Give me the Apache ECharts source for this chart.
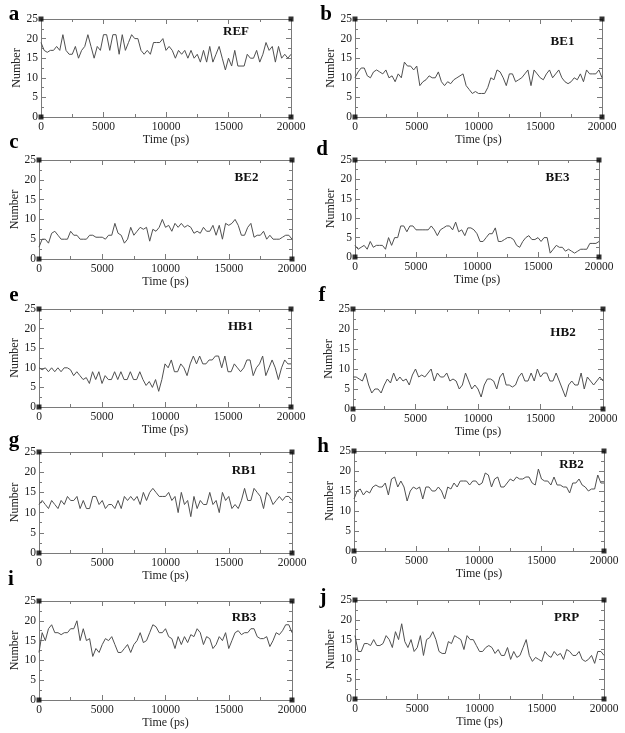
<!DOCTYPE html>
<html>
<head>
<meta charset="utf-8">
<script src="https://cdn.jsdelivr.net/npm/echarts@6/dist/echarts.min.js"></script>
<style>html,body{margin:0;padding:0;background:#fff}#c{width:625px;height:733px}</style>
</head>
<body>
<div id="c"></div>
<script>
// Time grid (ps), sampled every 250 ps
const TIME = [0,250,500,750,1000,1250,1500,1750,2000,2250,2500,2750,3000,3250,3500,3750,4000,4250,4500,4750,5000,5250,5500,5750,6000,6250,6500,6750,7000,7250,7500,7750,8000,8250,8500,8750,9000,9250,9500,9750,10000,10250,10500,10750,11000,11250,11500,11750,12000,12250,12500,12750,13000,13250,13500,13750,14000,14250,14500,14750,15000,15250,15500,15750,16000,16250,16500,16750,17000,17250,17500,17750,18000,18250,18500,18750,19000,19250,19500,19750,20000];

const REF = [19,17,16.5,17,17,18,17,21,17,16,16,18,15,17,18,21,18,15,18,17,21,21,17,21,21,16,21,17,19,21,20,20,17,16,17,16,19,19,19,20,17,18,17,15,17,16,17,15,17,15,16,14,17,14,18,14,16,18,15,12,15,13,17,13,13,13,16,15,15,17,14,16,19,17,18,14,18,15,16,15,16];
const BE1 = [10,11.5,12.5,12.5,10.5,10,11.5,12,11.5,11,12,10,10.5,9,11,10,14,13,13,12,13,8,9,9.5,10.5,10,10,11.5,9,8,9,8.5,9.5,10,10.5,11,8,7,6,6.5,6,6,6,7.5,10,9.5,12,11.5,10,8,11,11,9,9.5,10,11,12,8,12,11,10,9.5,11,12,10,11,12,10,9,8.5,9,10,9.5,11,9,12,11,11,11,12,10];
const BE2 = [3,5,5,4,6.5,7,6,5,5,5,7,6,6,5,5,5,6,6,5.5,5.5,5.5,5,6,6,9,6.5,6,4,5,8,6,7,8,7.5,8,4.5,7.5,7,8,10,8,8.5,7,9,8,9,8,8.5,8,6.5,7,6.5,8,7,7,8.5,6,8.5,5,9,8.5,9,10,8.5,6,6,8,9,5.5,6,6,7,5,6,5,5,5,5.5,6,6,5];
const BE3 = [3,2,2.5,3,2,4,2.5,3,3,3,2,5,3,5,5,8,8,6.5,8,8,7,7,7,7,7,8,7,5.5,7,7.5,8,8,7,9,6.5,7,5.5,7.5,7.5,7,6,4,4,5,6,6,7.5,4,4,4.5,5,5,4.5,3,2.5,4,5,5.5,4.5,4.5,5,4,5,5,1,2,3,2.5,2.5,1.5,2,1.5,1,1.5,2,2,2,3.5,3.5,3.5,4];
const HB1 = [10,9.5,10,9,10,9,10,9,10,10,9.5,8,9,8,7,7.5,6,9,7,9,6,8,7,7,9,7,9,7,7,9,7,7,9,7,5.5,6.5,5,7,4,7,11,10,12,9,9,11,10,8,11,13,11,13,11,11,12,12,13,13,10,13,9,9,11,10,9,10,12,12,8,10,11,13,8,10,12,10,7,10,12,11,11];
const HB2 = [8,8,7.5,7,9,6,4,5,5,4,6,7.5,6.5,9,7,8,7,7.5,6,8.5,10,8,8.5,8,9,10,7,9,8,8,9,7,7.5,7,5,6,9,7,5,6,5,3,6,7.5,7.5,7,5,8,9,6,6,5.5,6,8,9,7,7,9,7,10,8,9,9,7,7,9,7,5,3,6,7,6,6,9,5,8,7,6,7,8,7];
const RB1 = [12,13,12,11,13,12,11,13,12,14,13,13,14,11,13,11,11,14,14,12,13,11,12,12,11,13,11,14,13,14,13,14,12,15,13,15,16,15,14,14,14,15,13,14,10,15,12,13,9,14,11,13,12,12,15,12,13,10,15,13,14,11,12,11,13,16,13,13,16,15,14,11,15,14,12,13,14,13,14,14,13];
const RB2 = [13,15,15.5,14,15,14.5,16,16.5,16,16,17,14,18,18.5,16,17.5,16,12.5,15,16,15.5,16,13,16,16,15,15,16,15,13,16,15.5,17,16,17.5,17.5,17.5,16.5,17.5,17.5,16.5,17,19.5,19,16,18,18.5,16,16,17,18,17.5,18.5,18,18,18.5,18.5,17,16.5,20.5,18,17.5,17.5,16.5,18.5,16.5,16.5,16,16,14.5,17,17,18,16.5,16,15,15.5,15.5,19,17,17];
const RB3 = [12,17,15,18,19,17,17,16.5,17,17,18,18,20,15,18,15,15.5,11,13,12,14,15.5,15,16,14,12,12,13,14,12,14,15,17,14.5,15,17,19,18.5,17,17,18,16,15.5,13,16,14,16,14.5,16.5,16,18,17,14,16,15.5,13,14,16,15,17,13,15,17,17.5,16.5,17,17,18,18,16,15.5,15.5,16,13.5,15,17,16.5,17.5,19,19,17];
const PRP = [16,12,12,14,14,13.5,15,13.5,13.5,14,16,15,13,17,15,19,14.5,13,15,12,13,16,11,15,15.5,17,15,12,11.5,11.5,14.5,14,16,15.5,15,12.5,16,15,15,13.5,12,12,13,13.5,13,11.5,12.5,11,11,13,10,12,10.5,11,13,15,11,9.5,10.5,10,9.5,12,11,10.5,12,11,11.5,10,12.5,12,11,11,12,10,9.5,10,11,9,12,12,11];

const SERIES = [REF, BE1, BE2, BE3, HB1, HB2, RB1, RB2, RB3, PRP];
const NAMES = ['REF','BE1','BE2','BE3','HB1','HB2','RB1','RB2','RB3','PRP'];
const LETTERS = ['a','b','c','d','e','f','g','h','i','j'];
const X_MIN = 0, X_MAX = 20000, X_STEP = 5000;
const Y_MIN = 0, Y_MAX = 25, Y_STEP = 5;
const X_NAME = 'Time (ps)', Y_NAME = 'Number';

// layout (pixels)
const GRIDS = [
  {left:41,top:19,width:250,height:98},
  {left:355,top:19,width:247,height:98},
  {left:39,top:160,width:253,height:99},
  {left:355,top:160,width:244,height:97},
  {left:39,top:309,width:252,height:98},
  {left:353,top:309,width:250,height:100},
  {left:39,top:452,width:253,height:101},
  {left:354,top:451,width:250,height:100},
  {left:39,top:601,width:253,height:99},
  {left:355,top:600,width:249,height:99}
];
const TITLE_POS = [[0.78,13],[0.84,23],[0.82,18],[0.83,18],[0.80,18],[0.84,24],[0.81,19],[0.87,14],[0.81,17],[0.85,18]];
const LETTER_POS = [[14,15],[326,15],[14,143],[322,150],[14,296],[322,296],[14,441],[323,447],[11,580],[323,598]];

const FONT = '"Liberation Serif","DejaVu Serif",serif';
const AXIS_COLOR = '#7a7a7a';
const LINE_COLOR = '#505050';

const grid = [], xAxis = [], yAxis = [], series = [], graphic = [];
GRIDS.forEach((g, i) => {
  grid.push({left:g.left, top:g.top, width:g.width, height:g.height, containLabel:false});
  const common = {
    gridIndex:i, type:'value', splitLine:{show:false},
    axisLine:{show:true, onZero:false, lineStyle:{color:AXIS_COLOR, width:1}},
    axisTick:{show:true, inside:true, length:5, lineStyle:{color:AXIS_COLOR}},
    minorTick:{show:true, splitNumber:2, length:3, lineStyle:{color:AXIS_COLOR}},
    minorSplitLine:{show:false}
  };
  const xc = Object.assign({}, common, {min:X_MIN, max:X_MAX, interval:X_STEP});
  const yc = Object.assign({}, common, {min:Y_MIN, max:Y_MAX, interval:Y_STEP});
  xAxis.push(Object.assign({}, xc, {position:'bottom',
    axisLabel:{show:true, fontFamily:FONT, fontSize:11.5, color:'#222', margin:4, showMinLabel:true, showMaxLabel:true, hideOverlap:false, formatter:(v)=>String(v)},
    name:X_NAME, nameLocation:'middle', nameGap:14, nameTextStyle:{fontFamily:FONT, fontSize:12, color:'#222'}}));
  xAxis.push(Object.assign({}, xc, {position:'top', axisLabel:{show:false}}));
  yAxis.push(Object.assign({}, yc, {position:'left',
    axisLabel:{show:true, fontFamily:FONT, fontSize:11.5, color:'#222', margin:3, showMinLabel:true, showMaxLabel:true, hideOverlap:false, formatter:(v)=>String(v)},
    name:Y_NAME, nameLocation:'middle', nameGap:17, nameTextStyle:{fontFamily:FONT, fontSize:12, color:'#222'}}));
  yAxis.push(Object.assign({}, yc, {position:'right', axisLabel:{show:false}}));

  series.push({
    type:'line', xAxisIndex:2*i, yAxisIndex:2*i,
    data: TIME.map((t, k) => [t, SERIES[i][k]]),
    symbol:'none', lineStyle:{color:LINE_COLOR, width:1}, animation:false, z:3
  });
  series.push({
    type:'scatter', xAxisIndex:2*i, yAxisIndex:2*i, clip:false,
    data:[[X_MIN,Y_MIN],[X_MIN,Y_MAX],[X_MAX,Y_MIN],[X_MAX,Y_MAX]],
    symbol:'rect', symbolSize:5, itemStyle:{color:'#000'}, animation:false, z:5, silent:true
  });

  graphic.push({type:'text', x:g.left + TITLE_POS[i][0]*g.width, y:g.top + TITLE_POS[i][1],
    style:{text:NAMES[i], fontFamily:FONT, fontSize:13, fontWeight:'bold', fill:'#111', align:'center', verticalAlign:'middle'}});
  graphic.push({type:'text', x:LETTER_POS[i][0], y:LETTER_POS[i][1],
    style:{text:LETTERS[i], fontFamily:FONT, fontSize:21, fontWeight:'bold', fill:'#000', align:'center', verticalAlign:'middle'}});
});

const chart = echarts.init(document.getElementById('c'), null, {renderer:'canvas'});
chart.setOption({animation:false, backgroundColor:'#fff', grid, xAxis, yAxis, series, graphic});
</script>
</body>
</html>
